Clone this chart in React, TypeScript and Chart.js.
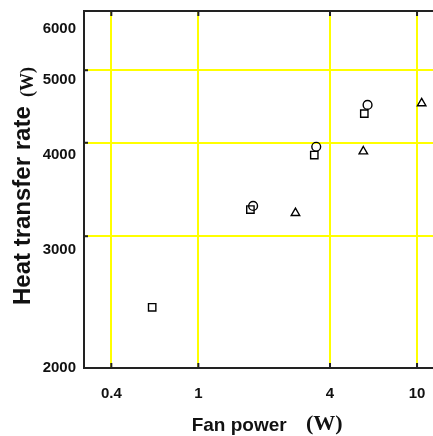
import React, { useEffect, useRef } from "react";
import { Chart, registerables } from "chart.js";

Chart.register(...registerables);

// ---- data ----
const squareX = [0.615, 1.73, 3.39, 5.74];
const squareY = [2411, 3257, 3851, 4375];
const circleX = [1.78, 3.46, 5.94];
const circleY = [3293, 3951, 4494];
const triangleX = [2.78, 5.68, 10.5];
const triangleY = [3222, 3895, 4517];

const xTicks = [0.4, 1, 4, 10];
const xTickLabels = ["0.4", "1", "4", "10"];
const yTicks = [2000, 3000, 4000, 5000, 6000];
const yTickLabels = ["2000", "3000", "4000", "5000", "6000"];

const xMin = 0.3;
const xMax = 13.2;
const yMin = 2000;
const yMax = 6000;

const xTitle = "Fan power";
const yTitle = "Heat transfer rate";
const unitText = "(W)";

// vertical shift of each y tick label relative to its gridline (style)
const yLabelShift = [0, 13.6, 12.6, 10, 18];

const SANS = '"Liberation Sans", Arial, sans-serif';
const SERIF = '"Liberation Serif", "Times New Roman", serif';
const BORDER = "#222";

const overlay = {
  id: "overlay",
  afterDraw(chart: any) {
    const ctx = chart.ctx;
    const area = chart.chartArea;
    const xs = chart.scales.x;
    const ys = chart.scales.y;
    ctx.save();
    ctx.strokeStyle = BORDER;
    ctx.lineWidth = 2;
    ctx.beginPath();
    ctx.moveTo(area.left - 1, area.top);
    ctx.lineTo(area.right, area.top);
    ctx.stroke();
    xTicks.forEach((v) => {
      const px = xs.getPixelForValue(v);
      ctx.beginPath();
      ctx.moveTo(px, area.top);
      ctx.lineTo(px, area.top + 5);
      ctx.moveTo(px, area.bottom);
      ctx.lineTo(px, area.bottom - 5);
      ctx.stroke();
    });
    yTicks.slice(1, -1).forEach((v) => {
      const py = ys.getPixelForValue(v);
      ctx.beginPath();
      ctx.moveTo(area.left, py);
      ctx.lineTo(area.left + 4, py);
      ctx.stroke();
    });
    ctx.fillStyle = "#111";
    ctx.font = `bold 15px ${SANS}`;
    ctx.textBaseline = "middle";
    ctx.textAlign = "right";
    yTicks.forEach((v, i) => {
      ctx.fillText(yTickLabels[i], area.left - 8, ys.getPixelForValue(v) + yLabelShift[i]);
    });
    ctx.textAlign = "center";
    xTicks.forEach((v, i) => {
      ctx.fillText(xTickLabels[i], xs.getPixelForValue(v), area.bottom + 25.5);
    });
    ctx.restore();
  },
};

const abs = (left: number, top: number, size: number, family: string, extra: any = {}) => ({
  position: "absolute" as const,
  left,
  top,
  fontSize: size,
  lineHeight: `${size}px`,
  fontFamily: family,
  fontWeight: "bold" as const,
  color: "#111",
  whiteSpace: "nowrap" as const,
  margin: 0,
  ...extra,
});

const rot = { transform: "rotate(-90deg)", transformOrigin: "0 0" };

export default function App() {
  const ref = useRef<HTMLCanvasElement | null>(null);

  useEffect(() => {
    document.body.style.margin = "0";
    document.body.style.overflow = "hidden";
    const canvas = ref.current;
    if (!canvas) return;
    const mk = (xs: number[], ys: number[]) => xs.map((x, i) => ({ x, y: ys[i] }));
    const pt = {
      borderColor: "#000",
      backgroundColor: "rgba(255,255,255,0)",
      borderWidth: 1.4,
    };
    const chart = new Chart(canvas, {
      type: "scatter",
      data: {
        datasets: [
          { data: mk(squareX, squareY), pointStyle: "rect", pointRadius: 5.2, ...pt },
          { data: mk(circleX, circleY), pointStyle: "circle", pointRadius: 4.4, ...pt },
          { data: mk(triangleX, triangleY), pointStyle: "triangle", pointRadius: 4.9, ...pt },
        ],
      },
      options: {
        animation: false,
        responsive: true,
        maintainAspectRatio: false,
        devicePixelRatio: 1,
        layout: { padding: { top: 11, left: 0, right: 0, bottom: 0 } },
        plugins: { legend: { display: false }, tooltip: { enabled: false } },
        scales: {
          x: {
            type: "logarithmic",
            min: xMin,
            max: xMax,
            afterBuildTicks: (s: any) => {
              s.ticks = xTicks.map((v) => ({ value: v }));
            },
            afterFit: (s: any) => {
              s.height = 68;
            },
            ticks: { display: false },
            grid: { color: "#ffff00", lineWidth: 2, drawTicks: false },
            border: { display: true, color: BORDER, width: 2 },
          },
          y: {
            type: "logarithmic",
            min: yMin,
            max: yMax,
            afterBuildTicks: (s: any) => {
              s.ticks = yTicks.map((v) => ({ value: v }));
            },
            afterFit: (s: any) => {
              s.width = 84;
            },
            ticks: { display: false },
            grid: { color: "#ffff00", lineWidth: 2, drawTicks: false },
            border: { display: true, color: BORDER, width: 2 },
          },
        },
      },
      plugins: [overlay],
    });
    return () => chart.destroy();
  }, []);

  return (
    <div style={{ width: 433, height: 436, overflow: "hidden", background: "#fff", position: "relative" }}>
      <div style={{ position: "absolute", left: 0, top: 0, width: 450, height: 436 }}>
        <canvas ref={ref} />
      </div>
      <span style={abs(191.7, 414.6, 19, SANS)}>{xTitle}</span>
      <span style={abs(306, 412.3, 22, SERIF)}>{unitText}</span>
      <span style={abs(10.4, 305, 24, SANS, rot)}>{yTitle}</span>
      <span style={abs(17.9, 97, 18, SERIF, rot)}>{unitText}</span>
    </div>
  );
}
